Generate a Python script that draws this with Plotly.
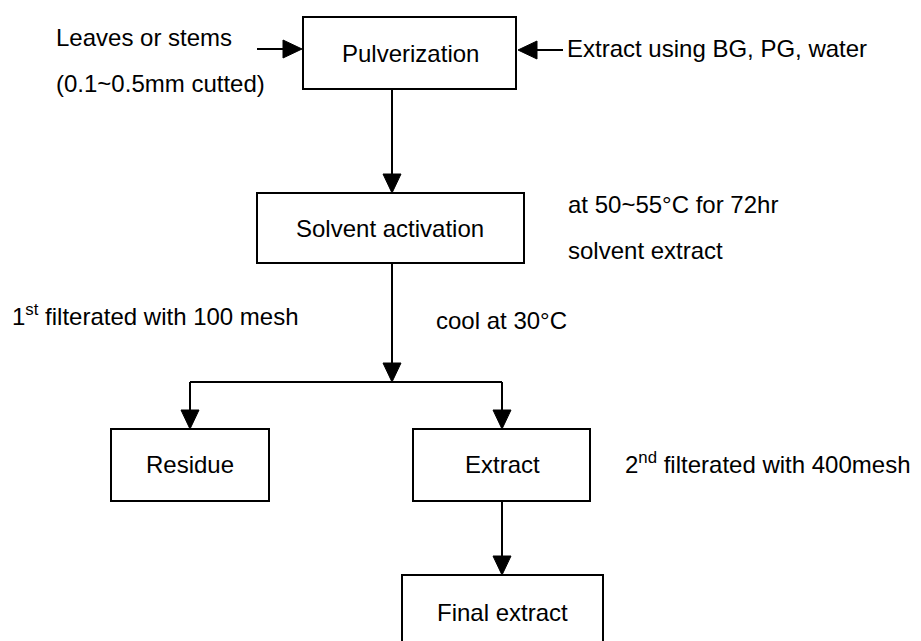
import plotly.graph_objects as go

# flowchart content
nodes = ["Pulverization", "Solvent activation", "Residue", "Extract", "Final extract"]
notes = ["Leaves or stems", "(0.1~0.5mm cutted)", "Extract using BG, PG, water",
         "at 50~55°C for 72hr", "solvent extract",
         "1<sup>st</sup> filterated with 100 mesh", "cool at 30°C",
         "2<sup>nd</sup> filterated with 400mesh"]

# layout (pixel coordinates, y downwards)
box_pos = [(303, 516, 17, 89), (257, 524, 193, 263), (111, 269, 429, 501),
           (413, 590, 429, 501), (402, 603, 575, 660)]
node_text_pos = [(410, 53), (390, 228), (190, 464), (502, 464), (502, 612)]
note_pos = [(54, 37), (54, 83), (565, 48), (566, 204), (566, 250),
            (10, 315), (434, 320), (623, 463)]

W, H = 921, 641
FONT = "Liberation Sans, Arial, sans-serif"
FS = 24
LW = 2

fig = go.Figure()
shapes = []
annotations = []


def line(x0, y0, x1, y1):
    shapes.append(dict(type="line", x0=x0, y0=y0, x1=x1, y1=y1,
                       line=dict(color="black", width=LW)))


def head(tx, ty, direction, length=19, half=9):
    # filled triangle whose tip is at (tx, ty)
    if direction == "down":
        pts = [(tx, ty), (tx - half, ty - length), (tx + half, ty - length)]
    elif direction == "right":
        pts = [(tx, ty), (tx - length, ty - half), (tx - length, ty + half)]
    else:
        pts = [(tx, ty), (tx + length, ty - half), (tx + length, ty + half)]
    path = "M " + " L ".join(f"{x},{y}" for x, y in pts) + " Z"
    shapes.append(dict(type="path", path=path, fillcolor="black",
                       line=dict(color="black", width=1)))


for (x0, x1, y0, y1) in box_pos:
    shapes.append(dict(type="rect", x0=x0, x1=x1, y0=y0, y1=y1,
                       line=dict(color="black", width=LW), fillcolor="white"))

# side inputs into Pulverization
line(257, 49, 290, 49); head(302, 49, "right")
line(563, 50, 530, 50); head(518, 50, "left")
# Pulverization -> Solvent activation
line(392, 89, 392, 180); head(392, 193, "down")
# Solvent activation -> split
line(392, 263, 392, 370); head(392, 382, "down")
line(190, 382, 502, 382)
line(190, 382, 190, 415); head(190, 429, "down")
line(502, 382, 502, 415); head(502, 429, "down")
# Extract -> Final extract
line(502, 501, 502, 560); head(502, 575, "down")

for label, (x, y) in zip(nodes, node_text_pos):
    annotations.append(dict(x=x, y=y, text=label, showarrow=False,
                            xanchor="center", yanchor="middle",
                            font=dict(family=FONT, size=FS, color="black")))

for label, (x, y) in zip(notes, note_pos):
    annotations.append(dict(x=x, y=y, text=label, showarrow=False,
                            xanchor="left", yanchor="middle",
                            font=dict(family=FONT, size=FS, color="black")))

fig.update_layout(
    width=W, height=H,
    margin=dict(l=0, r=0, t=0, b=0),
    paper_bgcolor="white", plot_bgcolor="white",
    shapes=shapes, annotations=annotations,
    showlegend=False,
    xaxis=dict(range=[0, W], visible=False, fixedrange=True),
    yaxis=dict(range=[H, 0], visible=False, fixedrange=True),
)

fig.write_html("out.html", config={"displayModeBar": False},
               post_script="document.body.style.margin='0px';")
